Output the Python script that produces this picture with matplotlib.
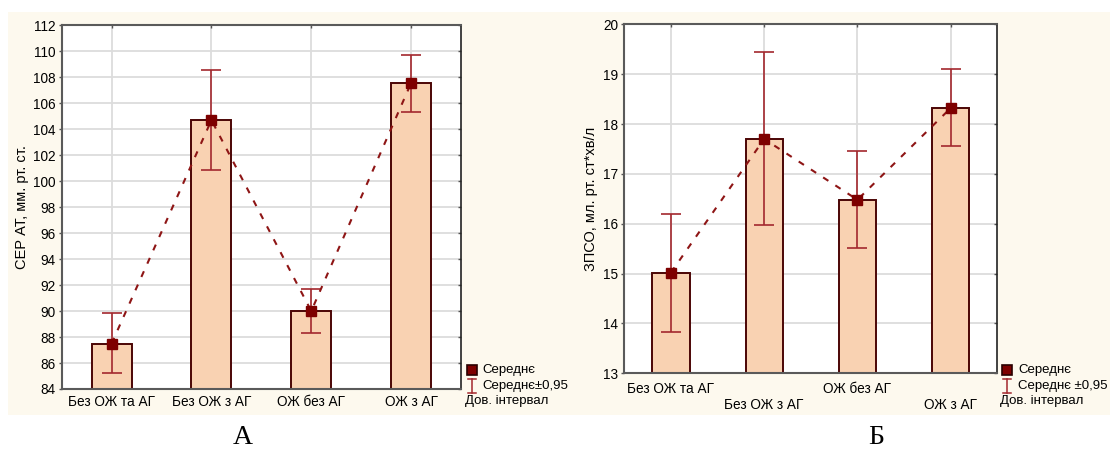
import matplotlib
matplotlib.use("Agg")
import matplotlib.pyplot as plt
from matplotlib.patches import Rectangle
from matplotlib.lines import Line2D
import matplotlib.lines as mlines
from matplotlib.transforms import blended_transform_factory

# ---- data ----
categories = ["Без ОЖ та АГ", "Без ОЖ з АГ", "ОЖ без АГ", "ОЖ з АГ"]

a_means = [87.5, 104.7, 90.0, 107.55]
a_low = [85.27, 100.87, 88.3, 105.35]
a_high = [89.85, 108.55, 91.72, 109.72]
a_yticks = list(range(84, 113, 2))
a_ylabel = "СЕР АТ, мм. рт. ст."

b_means = [15.02, 17.70, 16.48, 18.32]
b_low = [13.83, 15.97, 15.51, 17.55]
b_high = [16.20, 19.44, 17.45, 19.10]
b_yticks = list(range(13, 21))
b_ylabel = "ЗПСО, мл. рт. ст*хв/л"

legend_a = ["Середнє", "Середнє±0,95", "Дов. інтервал"]
legend_b = ["Середнє", "Середнє ±0,95", "Дов. інтервал"]
panel_labels = ["А", "Б"]

# ---- style ----
plt.rcParams['font.family'] = ['Liberation Sans', 'DejaVu Sans']
BAR_FILL = "#F9D2B2"
BAR_EDGE = "#4B0505"
ERR_COL = "#A3282E"
MARK_COL = "#7E0000"
LINE_COL = "#8E1515"
GRID_COL = "#DCDCDC"
BG = "#FDF9EE"
FS = 9.8
LFS = 9.5

W, H = 1110, 451
fig = plt.figure(figsize=(W / 100, H / 100), dpi=100)
fig.patch.set_facecolor("white")
fig.patches.append(Rectangle((8 / W, 1 - 415 / H), (W - 8) / W, (415 - 12) / H,
                             transform=fig.transFigure, facecolor=BG,
                             edgecolor="none", zorder=-10))


def px(x0, y0, x1, y1):
    return [x0 / W, 1 - y1 / H, (x1 - x0) / W, (y1 - y0) / H]


def draw(ax, means, low, high, yticks, ylabel, stagger, leg, leg_x, leg_text_x, ylab_x, xpad):
    x = list(range(len(categories)))
    ax.set_facecolor("white")
    ax.bar(x, means, width=0.4, color=BAR_FILL, edgecolor=BAR_EDGE,
           linewidth=1.4, zorder=2)
    yerr = [[m - l for m, l in zip(means, low)], [h - m for m, h in zip(means, high)]]
    ax.errorbar(x, means, yerr=yerr, fmt="none", ecolor=ERR_COL, elinewidth=1.2,
                capsize=7, capthick=1.2, zorder=3)
    ax.plot(x, means, linestyle=(0, (3, 4)), color=LINE_COL, linewidth=1.5, zorder=4)
    ax.plot(x, means, linestyle="none", marker="s", markersize=7,
            markerfacecolor=MARK_COL, markeredgecolor=MARK_COL, zorder=5)
    ax.set_xlim(-0.5, len(categories) - 0.5)
    ax.set_ylim(yticks[0], yticks[-1])
    ax.set_yticks(yticks)
    ax.set_xticks(x)
    if stagger:
        ax.set_xticklabels([c if i % 2 == 0 else "\n" + c for i, c in enumerate(categories)])
    else:
        ax.set_xticklabels(categories)
    ax.grid(True, color=GRID_COL, linewidth=1.3, zorder=0)
    ax.set_axisbelow(True)
    ax.tick_params(axis="x", labelsize=FS, length=2.5, width=1, color="#555555",
                   pad=xpad, top=True, bottom=True, direction="in")
    ax.tick_params(axis="y", labelsize=FS, length=2.5, width=1, color="#555555",
                   pad=2, left=True, right=True, direction="out")
    for tk in ax.yaxis.get_major_ticks(len(yticks)):
        tk.tick2line.set_marker(mlines.TICKLEFT)
    for lab in ax.get_xticklabels():
        lab.set_linespacing(1.15)
    ax.set_ylabel(ylabel, fontsize=10.5)
    ax.yaxis.set_label_coords(ylab_x, 0.5,
                              transform=blended_transform_factory(fig.transFigure, ax.transAxes))
    for s in ["top", "left", "bottom"]:
        ax.spines[s].set_color("#5a5a5a")
        ax.spines[s].set_linewidth(1.5)
    ax.spines["right"].set_color("#222222")
    ax.spines["right"].set_linewidth(1.2)

    # legend drawn manually in figure pixels
    ys = [370, 386, 401]
    t = fig.transFigure
    fig.add_artist(Line2D([leg_x / W], [1 - ys[0] / H], marker="s", markersize=7.5,
                          markerfacecolor=MARK_COL, markeredgecolor="#2a0000",
                          markeredgewidth=1.2, linestyle="none", transform=t))
    fig.add_artist(Line2D([leg_x / W] * 2, [1 - (ys[1] - 7) / H, 1 - (ys[1] + 7) / H],
                          color=ERR_COL, linewidth=1.1, transform=t))
    for yy in (ys[1] - 7, ys[1] + 7):
        fig.add_artist(Line2D([(leg_x - 4) / W, (leg_x + 4) / W], [1 - yy / H] * 2,
                              color=ERR_COL, linewidth=1.1, transform=t))
    fig.text(leg_text_x / W, 1 - ys[0] / H, leg[0], fontsize=LFS, va="center", ha="left")
    fig.text(leg_text_x / W, 1 - ys[1] / H, leg[1], fontsize=LFS, va="center", ha="left")
    fig.text((leg_x - 7) / W, 1 - ys[2] / H, leg[2], fontsize=LFS, va="center", ha="left")


ax1 = fig.add_axes(px(61.7, 25.3, 461, 389))
draw(ax1, a_means, a_low, a_high, a_yticks, a_ylabel, False, legend_a, 472, 482, 29 / W, 4)

ax2 = fig.add_axes(px(624.3, 24.3, 997.3, 373.3))
draw(ax2, b_means, b_low, b_high, b_yticks, b_ylabel, True, legend_b, 1007, 1018, 598 / W, 6.5)

fig.text(243 / W, 1 - 438 / H, panel_labels[0], fontsize=20, ha="center", va="center",
         family=["Liberation Serif", "DejaVu Serif"])
fig.text(876 / W, 1 - 438 / H, panel_labels[1], fontsize=20, ha="center", va="center",
         family=["Liberation Serif", "DejaVu Serif"])

fig.savefig("out.png", dpi=100, facecolor="white")
